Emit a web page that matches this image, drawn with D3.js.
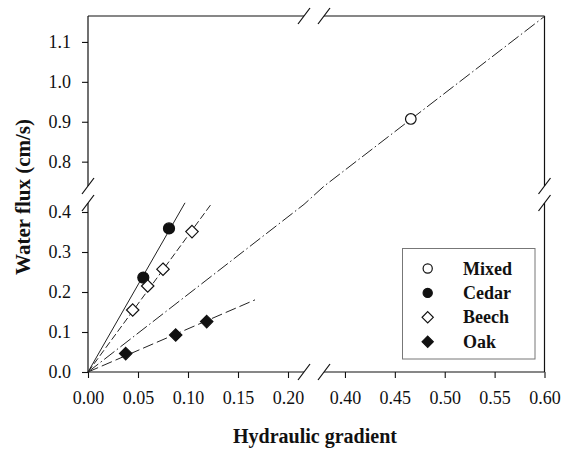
<!DOCTYPE html>
<html>
<head>
<meta charset="utf-8">
<script src="https://cdn.jsdelivr.net/npm/d3@7/dist/d3.min.js"></script>
</head>
<body style="margin:0;background:#fff">
<svg id="chart" width="564" height="452" style="display:block"></svg>
<script>
// ---- data ----
const mixedX = [0.466];
const mixedY = [0.907];
const cedarX = [0.0553, 0.081];
const cedarY = [0.236, 0.359];
const beechX = [0.0447, 0.0597, 0.075, 0.104];
const beechY = [0.155, 0.215, 0.257, 0.351];
const oakX = [0.0377, 0.0877, 0.1187];
const oakY = [0.046, 0.0925, 0.126];

// fitted lines through origin: slope and x extent
const fitNames = ["Mixed", "Cedar", "Beech", "Oak"];
const fitSlopes = [1.94, 4.39, 3.41, 1.08];
const fitXmax = [0.6, 0.097, 0.124, 0.167];

const xTicksLow = [0, 0.05, 0.10, 0.15, 0.20];
const xTicksHigh = [0.40, 0.45, 0.50, 0.55, 0.60];
const yTicksLow = [0, 0.1, 0.2, 0.3, 0.4];
const yTicksHigh = [0.8, 0.9, 1.0, 1.1];

const legendNames = ["Mixed", "Cedar", "Beech", "Oak"];

// ---- scales (broken axes) ----
const xBreakLo = 0.216, xBreakHi = 0.379, xMax = 0.6;
const yBreakLo = 0.4225, yBreakHi = 0.739, yMax = 1.165;
const x = d3.scaleLinear().domain([0, xBreakLo, xBreakHi, xMax]).range([88, 304, 324, 544.5]);
const y = d3.scaleLinear().domain([0, yBreakLo, yBreakHi, yMax]).range([372, 203, 186, 16]);

const svg = d3.select("#chart");
const ink = "#111";
const serif = '"Liberation Serif", serif';
function serifText(sel) { sel.style("font-family", serif, "important"); }

// ---- frame segments ----
const frame = svg.append("g").attr("stroke", ink).attr("stroke-width", 1.2).attr("fill", "none");
function seg(x1, y1, x2, y2) { frame.append("line").attr("x1", x1).attr("y1", y1).attr("x2", x2).attr("y2", y2); }
seg(x(0), y(0), x(xBreakLo), y(0));
seg(x(xBreakHi), y(0), x(xMax), y(0));
seg(x(0), y(yMax), x(xBreakLo), y(yMax));
seg(x(xBreakHi), y(yMax), x(xMax), y(yMax));
seg(x(0), y(0), x(0), y(yBreakLo));
seg(x(0), y(yBreakHi), x(0), y(yMax));
seg(x(xMax), y(0), x(xMax), y(yBreakLo));
seg(x(xMax), y(yBreakHi), x(xMax), y(yMax));

// break marks
function slash(cx, cy) { seg(cx - 6, cy + 8, cx + 6, cy - 8); }
[x(xBreakLo), x(xBreakHi)].forEach(px => { slash(px, y(0)); slash(px, y(yMax)); });
[y(yBreakLo), y(yBreakHi)].forEach(py => { slash(x(0), py); slash(x(xMax), py); });

// ---- axes ----
function styleAxis(g) {
  g.select(".domain").remove();
  g.selectAll(".tick line").attr("stroke", ink).attr("stroke-width", 1.1);
  g.selectAll(".tick text").attr("font-size", 18).attr("fill", ink).call(serifText);
}
svg.append("g").attr("transform", `translate(0,${y(0)})`)
  .call(d3.axisBottom(x).tickValues(xTicksLow.concat(xTicksHigh)).tickFormat(d3.format(".2f")).tickSize(6).tickPadding(13))
  .call(styleAxis);
svg.append("g").attr("transform", `translate(${x(0)},0)`)
  .call(d3.axisLeft(y).tickValues(yTicksLow.concat(yTicksHigh)).tickFormat(d3.format(".1f")).tickSize(6).tickPadding(11))
  .call(styleAxis);

// ---- fit lines ----
const dashes = { Mixed: "13,3,1.5,3", Cedar: null, Beech: "7,3", Oak: "11,4" };
const knots = [xBreakLo, xBreakHi];
const lineGen = d3.line().x(d => x(d[0])).y(d => y(d[1]));
fitNames.forEach((name, i) => {
  const xs = [0].concat(knots.filter(k => k < fitXmax[i])).concat([fitXmax[i]]);
  const pts = xs.map(v => [v, v * fitSlopes[i]]);
  svg.append("path").attr("d", lineGen(pts))
    .attr("fill", "none").attr("stroke", "#222").attr("stroke-width", 1)
    .attr("stroke-dasharray", dashes[name]);
});

// ---- markers ----
function drawCircles(xs, ys, filled, r) {
  svg.append("g").selectAll("circle").data(xs).join("circle")
    .attr("cx", (d) => x(d)).attr("cy", (d, i) => y(ys[i])).attr("r", r)
    .attr("fill", filled ? ink : "#fff").attr("stroke", ink).attr("stroke-width", 1.2);
}
function drawDiamonds(xs, ys, filled, h) {
  svg.append("g").selectAll("path").data(xs).join("path")
    .attr("d", `M0,${-h}L${h},0L0,${h}L${-h},0Z`)
    .attr("transform", (d, i) => `translate(${x(d)},${y(ys[i])})`)
    .attr("fill", filled ? ink : "#fff").attr("stroke", ink).attr("stroke-width", 1.2);
}
drawCircles(mixedX, mixedY, false, 5.3);
drawCircles(cedarX, cedarY, true, 5.5);
drawDiamonds(beechX, beechY, false, 6.2);
drawDiamonds(oakX, oakY, true, 6.2);

// ---- legend ----
const lg = svg.append("g");
lg.append("rect").attr("x", 402.5).attr("y", 248.5).attr("width", 132.5).attr("height", 110.5)
  .attr("fill", "#fff").attr("stroke", "#777").attr("stroke-width", 1);
legendNames.forEach((name, i) => {
  const cy = 268.5 + i * 24.4;
  const cx = 427.7;
  if (name === "Mixed" || name === "Cedar") {
    lg.append("circle").attr("cx", cx).attr("cy", cy).attr("r", 4.6)
      .attr("fill", name === "Cedar" ? ink : "#fff").attr("stroke", ink).attr("stroke-width", 1.2);
  } else {
    const h = 5.6;
    lg.append("path").attr("d", `M${cx},${cy - h}L${cx + h},${cy}L${cx},${cy + h}L${cx - h},${cy}Z`)
      .attr("fill", name === "Oak" ? ink : "#fff").attr("stroke", ink).attr("stroke-width", 1.2);
  }
  lg.append("text").attr("x", 463).attr("y", cy + 6).attr("fill", ink)
    .attr("font-size", 18).attr("font-weight", "bold").text(name).call(serifText);
});

// ---- titles ----
svg.append("text").attr("x", 315).attr("y", 443).attr("text-anchor", "middle").attr("fill", ink)
  .attr("font-size", 20).attr("font-weight", "bold").text("Hydraulic gradient").call(serifText);
svg.append("text").attr("transform", "translate(30,197) rotate(-90)").attr("text-anchor", "middle").attr("fill", ink)
  .attr("font-size", 21).attr("font-weight", "bold").text("Water flux (cm/s)").call(serifText);
</script>
</body>
</html>
